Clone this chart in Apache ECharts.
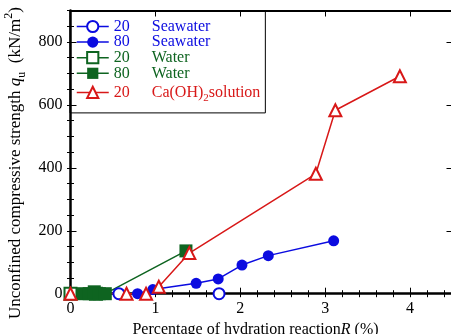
<!DOCTYPE html>
<html>
<head>
<meta charset="utf-8">
<script src="https://cdn.jsdelivr.net/npm/echarts@6/dist/echarts.min.js"></script>
<style>
  html, body { margin: 0; padding: 0; background: #fff; }
  #chart { width: 451px; height: 334px; }
</style>
</head>
<body>
<div id="chart"></div>
<script>
// Curing temperature / curing liquid for each series
const seriesNames = ['20 Seawater', '80 Seawater', '20 Water', '80 Water', '20 Ca(OH)2solution'];

// [hydration reaction R (%), unconfined compressive strength qu (kN/m2)]
const seawater20 = [[0.57, 0], [1.75, 0]];
const seawater80 = [[0.79, 0], [0.97, 13], [1.48, 33], [1.74, 47], [2.02, 91], [2.33, 121], [3.10, 168]];
const water20 = [[0, 0], [0.3, 0]];
const water80 = [[0.15, 0], [0.22, 0], [0.28, 6], [0.34, 0], [0.41, 0], [1.36, 136]];
const caoh20 = [[0, 0], [0.66, 0], [0.89, 0], [1.04, 22], [1.40, 129], [2.89, 381], [3.12, 583], [3.88, 691]];

// Axis ranges and tick steps
const xRange = [0, 4.5];
const xMajorStep = 1;
const xMinorStep = 0.2;
const yRange = [0, 900];
const yMajorStep = 200;
const yMinorStep = 50;

const FONT = 'Liberation Serif';
const BLUE = '#0b0be0';
const GREEN = '#0e6420';
const RED = '#d81818';

const chart = echarts.init(document.getElementById('chart'));

const gridBox = { left: 70.5, top: 10.5, width: 382, height: 283.2 };

function majorX(position, withLabels) {
  return {
    type: 'value', gridIndex: 0, position: position,
    min: xRange[0], max: xRange[1], interval: xMajorStep,
    axisLine: { show: true, onZero: false, lineStyle: { color: '#000', width: position === 'bottom' ? 2.5 : 2 } },
    axisTick: { show: true, inside: true, length: 6, lineStyle: { color: '#000', width: 1 } },
    axisLabel: { show: withLabels, showMaxLabel: false, margin: 7, fontFamily: FONT, fontSize: 16, color: '#000' },
    splitLine: { show: false }
  };
}
function minorX(position) {
  return {
    type: 'value', gridIndex: 1, position: position,
    min: xRange[0], max: xRange[1], interval: xMinorStep,
    axisLine: { show: false },
    axisTick: { show: true, inside: true, length: 3.5, lineStyle: { color: '#000', width: 1 } },
    axisLabel: { show: false }, splitLine: { show: false }
  };
}
function majorY(position, withLabels) {
  return {
    type: 'value', gridIndex: 0, position: position,
    min: yRange[0], max: yRange[1], interval: yMajorStep,
    axisLine: { show: true, onZero: false, lineStyle: { color: '#000', width: position === 'left' ? 2.5 : 2 } },
    axisTick: { show: true, inside: true, length: 6, lineStyle: { color: '#000', width: 1 } },
    axisLabel: { show: withLabels, showMaxLabel: false, margin: 8, fontFamily: FONT, fontSize: 16, color: '#000' },
    splitLine: { show: false }
  };
}
function minorY(position) {
  return {
    type: 'value', gridIndex: 1, position: position,
    min: yRange[0], max: yRange[1], interval: yMinorStep,
    axisLine: { show: false },
    axisTick: { show: true, inside: true, length: 3.5, lineStyle: { color: '#000', width: 1 } },
    axisLabel: { show: false }, splitLine: { show: false }
  };
}

const xBottom = majorX('bottom', true);
xBottom.name = 'Percentage of hydration reaction{i|R} (%)';
xBottom.nameLocation = 'middle';
xBottom.nameGap = 19;
xBottom.nameTextStyle = {
  fontFamily: FONT, fontSize: 16, color: '#000',
  padding: [0, 12, 0, 0],
  rich: { i: { fontFamily: FONT, fontSize: 16, fontStyle: 'italic' } }
};

const yLeft = majorY('left', true);
yLeft.name = 'Unconfined compressive strength {i|q}{u|u}  (kN/m{p|2})';
yLeft.nameLocation = 'middle';
yLeft.nameGap = 42;
yLeft.nameTextStyle = {
  fontFamily: FONT, fontSize: 17, color: '#000', lineHeight: 17,
  padding: [0, 22, 0, 0],
  rich: {
    i: { fontFamily: FONT, fontSize: 17, fontStyle: 'italic', lineHeight: 17 },
    u: { fontFamily: FONT, fontSize: 12, lineHeight: 4, padding: [13, 0, 0, 0] },
    p: { fontFamily: FONT, fontSize: 12, lineHeight: 4, padding: [0, 0, 13, 0] }
  }
};

function lineSeries(name, data, symbol, size, color) {
  const empty = symbol.indexOf('empty') === 0;
  return {
    name: name, type: 'line', xAxisIndex: 0, yAxisIndex: 0,
    data: data, symbol: symbol, symbolSize: size, showSymbol: true,
    lineStyle: { color: color, width: 1.5 },
    itemStyle: { color: color, borderColor: color, borderWidth: empty ? 1.3 : 0 },
    emphasis: { disabled: true },
    animation: false
  };
}

const legendColors = [BLUE, BLUE, GREEN, GREEN, RED];

chart.setOption({
  animation: false,
  grid: [
    Object.assign({ containLabel: false, outerBoundsMode: 'none' }, gridBox),
    Object.assign({ containLabel: false, outerBoundsMode: 'none' }, gridBox)
  ],
  xAxis: [xBottom, majorX('top', false), minorX('bottom'), minorX('top')],
  yAxis: [yLeft, majorY('right', false), minorY('left'), minorY('right')],
  legend: {
    orient: 'vertical', align: 'left',
    left: 70, top: 10.5,
    padding: [8, 5, 9, 6],
    itemGap: -0.4, itemWidth: 32, itemHeight: 14,
    borderColor: '#000', borderWidth: 1,
    selectedMode: false,
    textStyle: {
      fontFamily: FONT, fontSize: 16, lineHeight: 16,
      rich: {
        n: { width: 38, fontFamily: FONT, fontSize: 16, lineHeight: 16 },
        t: { fontFamily: FONT, fontSize: 16, lineHeight: 16 },
        s: { fontFamily: FONT, fontSize: 11, lineHeight: 4, padding: [12, 0, 0, 0] }
      }
    },
    formatter: function (name) {
      const idx = name.indexOf(' ');
      const temp = name.slice(0, idx);
      let liquid = name.slice(idx + 1);
      if (liquid.indexOf('Ca(OH)2') === 0) {
        liquid = '{t|Ca(OH)}{s|2}{t|' + liquid.slice(7) + '}';
      } else {
        liquid = '{t|' + liquid + '}';
      }
      return '{n|' + temp + '}' + liquid;
    },
    data: seriesNames.map(function (n, i) {
      return { name: n, textStyle: { color: legendColors[i] },
               lineStyle: { color: legendColors[i], width: 1.5, opacity: 1 } };
    })
  },
  series: [
    Object.assign(lineSeries(seriesNames[0], seawater20, 'emptyCircle', 11, BLUE), { lineStyle: { color: BLUE, width: 1.5, opacity: 0 } }),
    lineSeries(seriesNames[1], seawater80, 'circle', 11, BLUE),
    Object.assign(lineSeries(seriesNames[2], water20, 'emptyRect', 12, GREEN), { lineStyle: { color: GREEN, width: 1.5, opacity: 0 } }),
    lineSeries(seriesNames[3], water80, 'rect', 13, GREEN),
    lineSeries(seriesNames[4], caoh20, 'emptyTriangle', 12, RED)
  ]
});
</script>
</body>
</html>
